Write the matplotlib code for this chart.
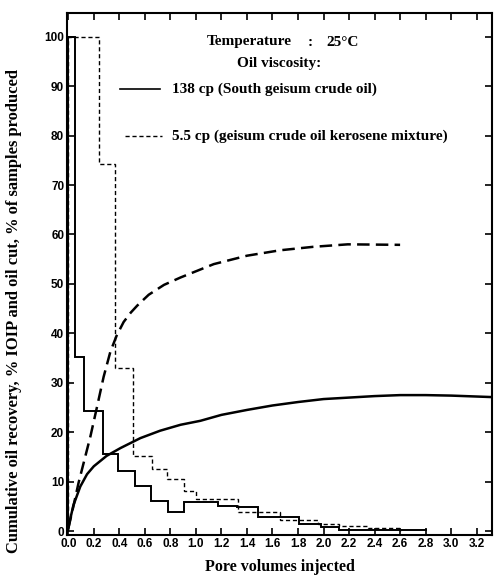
import numpy as np
import matplotlib
matplotlib.use('Agg')
import matplotlib.pyplot as plt
from matplotlib.lines import Line2D

# oil cut, 138 cp (solid steps)
cut_heavy_edges = [0.0, 0.055, 0.125, 0.27, 0.39, 0.52, 0.65, 0.78, 0.905, 1.17, 1.32,
                   1.49, 1.81, 1.98, 2.12, 2.80]
cut_heavy = [100, 35.2, 24.3, 15.5, 12.2, 9.2, 6.0, 3.9, 5.9, 5.0, 4.8, 2.8, 1.5, 0.9, 0.3]

# oil cut, 5.5 cp (dashed steps)
cut_light_edges = [0.0, 0.24, 0.37, 0.51, 0.656, 0.774, 0.905, 1.0, 1.33, 1.66, 1.96,
                   2.12, 2.35, 2.60]
cut_light = [100, 74.2, 33.0, 15.1, 12.5, 10.6, 8.0, 6.4, 3.8, 2.3, 1.4, 1.0, 0.6]

# cumulative recovery, 138 cp
rec_heavy_x = [0.0, 0.016, 0.04, 0.094, 0.147, 0.2, 0.30, 0.41, 0.565, 0.72, 0.88, 1.035,
               1.2, 1.4, 1.6, 1.8, 2.0, 2.2, 2.4, 2.6, 2.8, 3.0, 3.32]
rec_heavy_y = [0.5, 2.5, 5.2, 9.0, 11.5, 13.1, 15.2, 16.8, 18.8, 20.3, 21.5, 22.3,
               23.5, 24.5, 25.4, 26.1, 26.7, 27.0, 27.3, 27.5, 27.5, 27.4, 27.1]

# cumulative recovery, 5.5 cp
rec_light_x = [0.0, 0.04, 0.081, 0.173, 0.225, 0.277, 0.33, 0.38, 0.434, 0.49, 0.54, 0.63,
               0.75, 0.88, 1.14, 1.40, 1.66, 1.92, 2.19, 2.6]
rec_light_y = [0.5, 5.0, 9.8, 19.1, 25.1, 31.2, 36.3, 39.6, 42.3, 44.2, 45.6, 47.8,
               49.8, 51.3, 54.0, 55.7, 56.8, 57.5, 58.0, 57.9]

xticks = np.arange(0, 3.21, 0.2)
yticks = np.arange(0, 101, 10)

W, H = 495, 577
fig = plt.figure(figsize=(W / 100, H / 100), dpi=100)
ax = fig.add_axes([67 / W, 1 - 535 / H, 425 / W, 522 / H])

ax.stairs(cut_heavy, cut_heavy_edges, baseline=0, color='black', lw=1.4)
ax.stairs(cut_light, cut_light_edges, baseline=0, color='black', lw=1.0,
          linestyle=(0, (3, 2)))
ax.plot(rec_heavy_x, rec_heavy_y, color='black', lw=1.8)
ax.plot(rec_light_x, rec_light_y, color='black', lw=1.8, linestyle=(0, (5, 2.5)))

ax.set_xlim(-0.01, 3.32)
ax.set_ylim(-0.8, 104.8)
ax.set_xticks(xticks)
ax.set_xticklabels(['%.1f' % v for v in xticks])
ax.set_yticks(yticks)
ax.tick_params(direction='in', length=5, width=1.2, top=True, right=True,
               labelsize=8.5, pad=2)
for lab in ax.get_xticklabels() + ax.get_yticklabels():
    lab.set_fontweight('bold')
    lab.set_family('Liberation Sans')
for s in ax.spines.values():
    s.set_linewidth(1.5)

serif = dict(family='Liberation Serif', fontweight='bold', color='black')
fig.text(14 / W, 1 - 311 / H, 'Cumulative oil recovery, % IOIP and oil cut, % of samples produced',
         rotation=90, ha='center', va='center', fontsize=11.9, **serif)
fig.text(280 / W, 1 - 567 / H, 'Pore volumes injected', ha='center', va='center',
         fontsize=11.5, **serif)

# header text: "Temperature : 25°C" laid out in three pieces like the original
fig.text(207 / W, 1 - 42 / H, 'Temperature', ha='left', va='center', fontsize=11, **serif)
fig.text(310 / W, 1 - 42 / H, ':', ha='center', va='center', fontsize=11, **serif)
fig.text(326 / W, 1 - 42 / H, '25°C', ha='left', va='center', fontsize=11, **serif)
fig.text(237 / W, 1 - 64 / H, 'Oil viscosity:', ha='left', va='center', fontsize=11, **serif)
fig.text(172 / W, 1 - 89 / H, '138 cp (South geisum crude oil)', ha='left', va='center',
         fontsize=11, **serif)
fig.text(172 / W, 1 - 136 / H, '5.5 cp (geisum crude oil kerosene mixture)', ha='left',
         va='center', fontsize=11, **serif)
fig.add_artist(Line2D([120 / W, 160 / W], [1 - 89 / H, 1 - 89 / H], color='black', lw=1.2))
fig.add_artist(Line2D([125 / W, 162 / W], [1 - 136 / H, 1 - 136 / H], color='black', lw=1.0,
                      linestyle=(0, (3, 2))))

fig.savefig('out.png', dpi=100)
